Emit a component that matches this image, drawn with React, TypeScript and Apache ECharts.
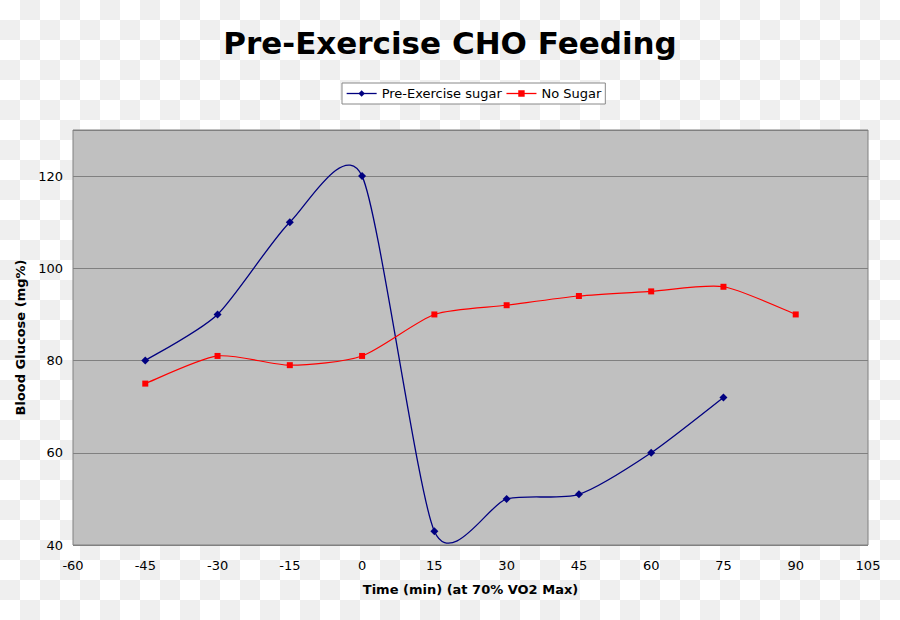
import React, { useEffect, useRef } from "react";
import * as echarts from "echarts";

const timePoints = [-45, -30, -15, 0, 15, 30, 45, 60, 75, 90];
const sugarValues = [80, 90, 110, 120, 43, 50, 51, 60, 72];
const noSugarValues = [75, 81, 79, 81, 90, 92, 94, 95, 96, 90];
const xTicks = { min: -60, max: 105, interval: 15 };
const yTicks = { min: 40, max: 130, interval: 20 };

const K = 0.12;

function smoothCurve(values: number[], name: string, color: string, width: number) {
  const pts = values.map((v, i) => [timePoints[i], v]);
  return {
    name,
    type: "custom",
    coordinateSystem: "cartesian2d",
    silent: true,
    z: 2,
    encode: { x: 0, y: 1 },
    data: pts,
    renderItem: (params: any, api: any) => {
      const i = params.dataIndex;
      if (i >= pts.length - 1) return null;
      const c = pts.map((p) => api.coord(p));
      const p0 = c[Math.max(i - 1, 0)];
      const p1 = c[i];
      const p2 = c[i + 1];
      const p3 = c[Math.min(i + 2, c.length - 1)];
      return {
        type: "bezierCurve",
        shape: {
          x1: p1[0],
          y1: p1[1],
          cpx1: p1[0] + (p2[0] - p0[0]) * K,
          cpy1: p1[1] + (p2[1] - p0[1]) * K,
          cpx2: p2[0] - (p3[0] - p1[0]) * K,
          cpy2: p2[1] - (p3[1] - p1[1]) * K,
          x2: p2[0],
          y2: p2[1],
        },
        style: { stroke: color, lineWidth: width, fill: "none" },
      };
    },
  };
}

export default function App() {
  const ref = useRef<HTMLDivElement>(null);
  useEffect(() => {
    document.body.style.margin = "0";
    const chart = echarts.init(ref.current!, null, { renderer: "svg" });
    const font = "DejaVu Sans, Verdana, sans-serif";
    chart.setOption({
      animation: false,
      title: {
        text: "Pre-Exercise CHO Feeding",
        left: "center",
        top: 22,
        textStyle: { fontFamily: font, fontSize: 31, fontWeight: "bold", color: "#000" },
      },
      legend: {
        top: 83,
        left: 342,
        backgroundColor: "#fff",
        borderColor: "#888",
        borderWidth: 1,
        borderRadius: 0,
        padding: [4, 4],
        itemWidth: 30,
        itemHeight: 8,
        itemGap: 4,
        textStyle: { fontFamily: font, fontSize: 13, color: "#000" },
        data: [
          { name: "Pre-Exercise sugar", lineStyle: { opacity: 1, width: 1.3 } },
          { name: "No Sugar", lineStyle: { opacity: 1, width: 1.3 } },
        ],
      },
      grid: { left: 73, right: 32, top: 130, bottom: 75, show: true, backgroundColor: "#c0c0c0", borderColor: "#808080", borderWidth: 1 },
      xAxis: {
        type: "value",
        min: xTicks.min,
        max: xTicks.max,
        interval: xTicks.interval,
        name: "Time (min) (at 70% VO2 Max)",
        nameLocation: "middle",
        nameGap: 38,
        nameTextStyle: { fontFamily: font, fontSize: 13, fontWeight: "bold", color: "#000" },
        axisLine: { show: false },
        axisTick: { show: false },
        splitLine: { show: false },
        axisLabel: { fontFamily: font, fontSize: 13, color: "#000", margin: 14 },
      },
      yAxis: {
        type: "value",
        min: yTicks.min,
        max: yTicks.max,
        interval: yTicks.interval,
        name: "Blood Glucose (mg%)",
        nameLocation: "middle",
        nameGap: 37,
        nameTextStyle: { fontFamily: font, fontSize: 13, fontWeight: "bold", color: "#000" },
        axisLine: { show: false },
        axisTick: { show: false },
        splitLine: { show: true, lineStyle: { color: "#808080", width: 1 } },
        axisLabel: {
          fontFamily: font,
          fontSize: 13,
          color: "#000",
          margin: 10,
          showMaxLabel: false,
        },
      },
      series: [
        smoothCurve(sugarValues, "sugar-curve", "#000080", 1.3),
        smoothCurve(noSugarValues, "nosugar-curve", "#ff0000", 1.2),
        {
          name: "Pre-Exercise sugar",
          type: "line",
          z: 3,
          symbol: "diamond",
          symbolSize: 8,
          itemStyle: { color: "#000080" },
          lineStyle: { color: "#000080", width: 1.3, opacity: 0 },
          data: sugarValues.map((v, i) => [timePoints[i], v]),
        },
        {
          name: "No Sugar",
          type: "line",
          z: 3,
          symbol: "rect",
          symbolSize: 6,
          itemStyle: { color: "#ff0000" },
          lineStyle: { color: "#ff0000", width: 1.3, opacity: 0 },
          data: noSugarValues.map((v, i) => [timePoints[i], v]),
        },
      ],
    });
    return () => chart.dispose();
  }, []);
  return (
    <div
      ref={ref}
      style={{
        width: 900,
        height: 620,
        backgroundColor: "#ffffff",
        backgroundImage:
          "conic-gradient(#efefef 25%, #ffffff 0 50%, #efefef 0 75%, #ffffff 0)",
        backgroundSize: "40px 40px",
      }}
    />
  );
}
